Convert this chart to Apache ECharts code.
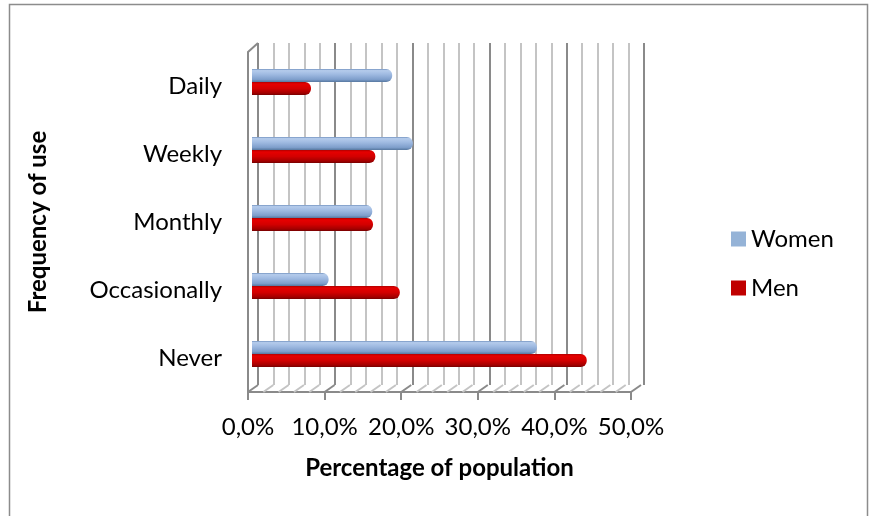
<!DOCTYPE html>
<html>
<head>
<meta charset="utf-8">
<script src="https://cdn.jsdelivr.net/npm/echarts@6/dist/echarts.min.js"></script>
<style>
  html, body { margin: 0; padding: 0; background: #fff; }
  #chart { width: 870px; height: 516px; }
</style>
</head>
<body>
<div id="chart"></div>
<script>
// Frequency of use by sex (share of population, %)
const categories = ['Daily', 'Weekly', 'Monthly', 'Occasionally', 'Never'];
const women = [18.3, 21.0, 15.7, 10.0, 37.2];
const men = [7.7, 16.1, 15.8, 19.3, 43.7];
const xTicks = [0, 10, 20, 30, 40, 50];
const wallTicks = [0, 2, 4, 6, 8, 10, 12, 14, 16, 18, 20, 22, 24, 26, 28, 30, 32, 34, 36, 38, 40, 42, 44, 46, 48, 50];

const FONT = 'Lato';
const chart = echarts.init(document.getElementById('chart'));

const gridColor = '#8a8a8a';
const lightGrid = '#c4c4c4';

function cyl(stops) {
  return new echarts.graphic.LinearGradient(0, 0, 0, 1,
    stops.map(c => ({ offset: c[0], color: c[1] })));
}

const womenFill = cyl([[0, '#7393c0'], [0.12, '#b4cbeb'], [0.4, '#a0bbe2'], [0.8, '#7f9fcc'], [1, '#56779f']]);
const menFill = cyl([[0, '#b00000'], [0.15, '#e60000'], [0.5, '#d30000'], [0.85, '#a30000'], [1, '#760000']]);

// floor slats: from the front edge of the floor back to the wall
function floorItem(params, api) {
  const cs = params.coordSys;
  const v = api.value(0);
  const x = api.coord([v, 0])[0];
  const yb = cs.y + cs.height;
  const children = [{
    type: 'line',
    shape: { x1: x, y1: yb, x2: x + 10, y2: yb - 7 },
    style: { stroke: v % 10 === 0 ? gridColor : lightGrid, lineWidth: 2 }
  }];
  if (params.dataIndex === 0) {
    children.push({
      type: 'line',
      shape: { x1: x, y1: cs.y, x2: x + 10, y2: cs.y - 9 },
      style: { stroke: gridColor, lineWidth: 2 }
    });
  }
  return { type: 'group', children };
}

chart.setOption({
  backgroundColor: '#fff',
  animation: false,
  textStyle: { fontFamily: FONT },
  graphic: [{
    type: 'rect',
    shape: { x: 9.5, y: 4.5, width: 858, height: 530 },
    style: { fill: 'none', stroke: '#8c8c8c', lineWidth: 1.5 },
    silent: true
  }],
  legend: {
    orient: 'vertical',
    left: 726,
    top: 222,
    itemWidth: 15,
    itemHeight: 15,
    itemGap: 25,
    icon: 'rect',
    textStyle: { fontFamily: FONT, fontSize: 24, color: '#000' },
    data: [
      { name: 'Women', itemStyle: { color: '#95b3d7' } },
      { name: 'Men', itemStyle: { color: '#c00000' } }
    ]
  },
  grid: [
    // back wall
    { left: 258, top: 43, width: 386, height: 342 },
    // front axes
    { left: 248, top: 52, width: 383, height: 340 },
    // bars
    { left: 252, top: 48, width: 383, height: 340 }
  ],
  xAxis: [
    {
      gridIndex: 0, type: 'value', min: 0, max: 50, interval: 2,
      axisLine: { show: false }, axisTick: { show: false }, axisLabel: { show: false },
      splitLine: { show: true, lineStyle: { width: 2, color: [gridColor, lightGrid, lightGrid, lightGrid, lightGrid] } }
    },
    {
      gridIndex: 1, type: 'value', min: 0, max: 50, interval: 10,
      axisLine: { show: true, lineStyle: { color: gridColor, width: 2 } },
      axisTick: { show: true, length: 8, lineStyle: { color: gridColor, width: 2 } },
      splitLine: { show: false },
      axisLabel: {
        fontFamily: FONT, fontSize: 24, color: '#000', margin: 23,
        formatter: v => v.toFixed(1).replace('.', ',') + '%'
      },
      name: 'Percentage of population',
      nameLocation: 'middle',
      nameGap: 64,
      nameTextStyle: { fontFamily: FONT, fontSize: 24, fontWeight: 'bold', color: '#000' }
    },
    {
      gridIndex: 2, type: 'value', min: 0, max: 50, show: false
    }
  ],
  yAxis: [
    { gridIndex: 0, type: 'value', show: false },
    {
      gridIndex: 1, type: 'category', inverse: true, data: categories,
      axisLine: { show: true, lineStyle: { color: gridColor, width: 2 } },
      axisTick: { show: false },
      axisLabel: { fontFamily: FONT, fontSize: 24, color: '#000', margin: 26 },
      name: 'Frequency of use',
      nameLocation: 'middle',
      nameGap: 198,
      nameRotate: 90,
      nameTextStyle: { fontFamily: FONT, fontSize: 24, fontWeight: 'bold', color: '#000' }
    },
    { gridIndex: 2, type: 'category', inverse: true, data: categories, show: false }
  ],
  series: [
    {
      type: 'custom',
      xAxisIndex: 1, yAxisIndex: 1,
      silent: true,
      renderItem: floorItem,
      data: wallTicks.map(v => [v]),
      encode: { x: 0 },
      z: 1
    },
    {
      name: 'Women', type: 'bar', xAxisIndex: 2, yAxisIndex: 2,
      data: women, barWidth: 13, barGap: '0%',
      itemStyle: { color: womenFill, borderRadius: [0, 6, 6, 0] },
      z: 3
    },
    {
      name: 'Men', type: 'bar', xAxisIndex: 2, yAxisIndex: 2,
      data: men, barWidth: 13, barGap: '0%',
      itemStyle: { color: menFill, borderRadius: [0, 6, 6, 0] },
      z: 3
    }
  ]
});
</script>
</body>
</html>
